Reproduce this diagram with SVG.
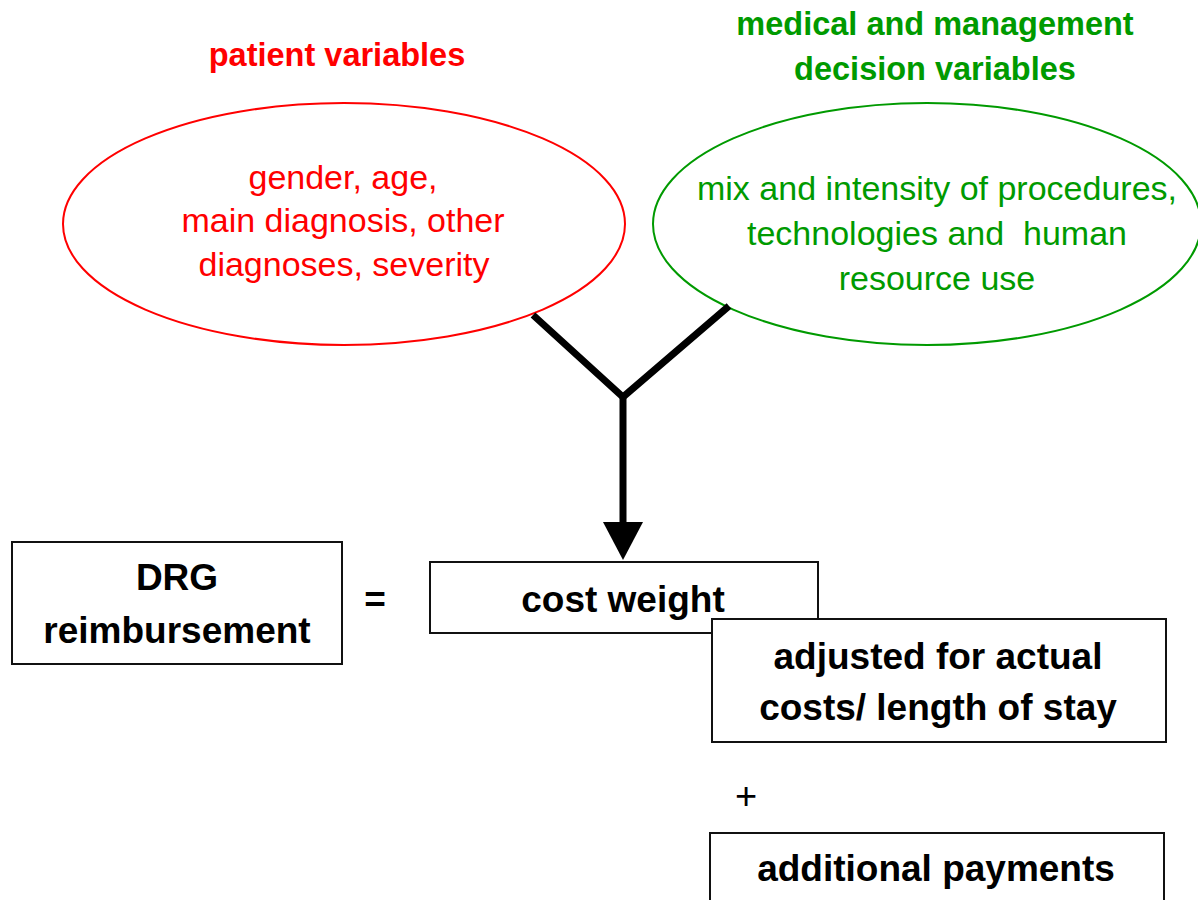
<svg xmlns="http://www.w3.org/2000/svg" width="1198" height="900" viewBox="0 0 1198 900">
<defs>
<style>
text{font-family:"Liberation Sans",Arial,sans-serif;text-anchor:middle}
.t{font-weight:bold;font-size:32.5px}
.r{fill:#ff0000}
.g{fill:#009a00}
.body{font-size:34px}
.blk{font-weight:bold;font-size:37px;fill:#000}
.box{fill:#fff;stroke:#111;stroke-width:2}
.conn{stroke:#000;stroke-width:7;fill:none}
</style>
</defs>
<rect width="1198" height="900" fill="#fff"/>
<g id="patient-variables">
<text class="t r" x="337" y="66">patient variables</text>
<ellipse cx="344" cy="224" rx="281" ry="121" fill="none" stroke="#ff0000" stroke-width="2"/>
<text class="body r" x="343" y="189">gender, age,</text>
<text class="body r" x="343" y="232">main diagnosis, other</text>
<text class="body r" x="344" y="276">diagnoses, severity</text>
</g>
<g id="decision-variables">
<text class="t g" x="935" y="35">medical and management</text>
<text class="t g" x="935" y="80">decision variables</text>
<ellipse cx="927" cy="224" rx="274" ry="121" fill="none" stroke="#009a00" stroke-width="2"/>
<text class="body g" x="937" y="200">mix and intensity of procedures,</text>
<text class="body g" x="937" y="245" xml:space="preserve">technologies and  human</text>
<text class="body g" x="937" y="290">resource use</text>
</g>
<g id="connectors">
<polyline class="conn" points="533,315 623,397 729,306"/>
<line class="conn" x1="623" y1="397" x2="623" y2="526"/>
<polygon points="603,522 643,522 623,560" fill="#000"/>
</g>
<g id="drg-reimbursement">
<rect class="box" x="12" y="542" width="330" height="122"/>
<text class="blk" x="177" y="590">DRG</text>
<text class="blk" x="177" y="643">reimbursement</text>
</g>
<g id="equals">
<text class="blk" x="375" y="612">=</text>
</g>
<g id="cost-weight">
<rect class="box" x="430" y="562" width="388" height="71"/>
<text class="blk" x="623" y="612">cost weight</text>
</g>
<g id="adjusted">
<rect class="box" x="712" y="619" width="454" height="123"/>
<text class="blk" x="938" y="669">adjusted for actual</text>
<text class="blk" x="938" y="720">costs/ length of stay</text>
</g>
<g id="plus">
<text class="blk" x="746" y="809" style="font-weight:normal;font-size:38px">+</text>
</g>
<g id="additional-payments">
<rect class="box" x="710" y="833" width="454" height="80"/>
<text class="blk" x="936" y="881">additional payments</text>
</g>
</svg>
